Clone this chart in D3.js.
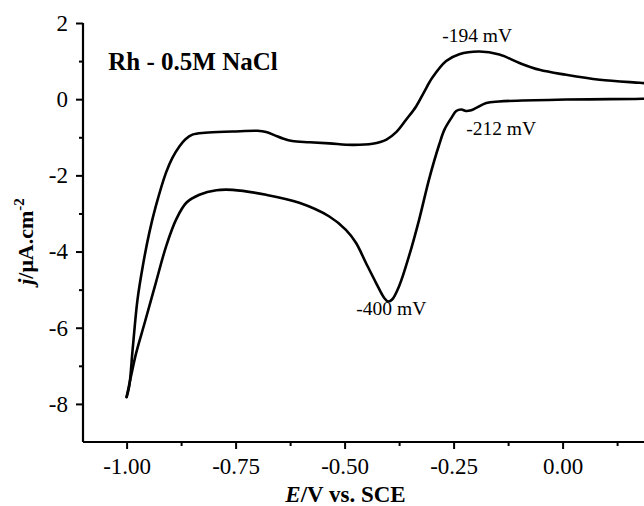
<!DOCTYPE html>
<html>
<head>
<meta charset="utf-8">
<script src="https://cdn.jsdelivr.net/npm/d3@7"></script>
<style>
    body { margin: 0; background: #fff; }
    svg { display: block; }
</style>
</head>
<body>
<div id="chart"></div>
<script>
// forward (anodic) scan, E in V vs SCE, j in uA/cm2
const forward_E = [-1.000, -0.994, -0.986, -0.975, -0.963, -0.948, -0.933, -0.910, -0.895, -0.879, -0.865, -0.849, -0.820, -0.757, -0.700, -0.680, -0.660, -0.640, -0.620, -0.580, -0.535, -0.482, -0.436, -0.404, -0.381, -0.359, -0.336, -0.318, -0.299, -0.267, -0.237, -0.191, -0.145, -0.099, -0.053, 0.008, 0.085, 0.177, 0.200]
const forward_j = [-7.82, -7.54, -6.55, -5.26, -4.39, -3.51, -2.81, -1.94, -1.54, -1.24, -1.05, -0.93, -0.88, -0.85, -0.83, -0.86, -0.95, -1.04, -1.10, -1.13, -1.16, -1.20, -1.17, -1.06, -0.86, -0.54, -0.19, 0.18, 0.56, 1.00, 1.18, 1.25, 1.17, 0.95, 0.77, 0.64, 0.51, 0.43, 0.41]

// reverse (cathodic) scan
const reverse_E = [0.200, 0.183, 0.008, -0.146, -0.175, -0.198, -0.212, -0.222, -0.232, -0.244, -0.255, -0.271, -0.283, -0.306, -0.329, -0.352, -0.375, -0.391, -0.400, -0.409, -0.428, -0.451, -0.474, -0.497, -0.535, -0.604, -0.680, -0.757, -0.794, -0.833, -0.863, -0.886, -0.909, -0.933, -0.958, -0.978, -0.990, -1.000]
const reverse_j = [0.02, 0.01, -0.01, -0.06, -0.10, -0.23, -0.30, -0.31, -0.27, -0.31, -0.49, -0.80, -1.19, -2.09, -3.16, -4.11, -4.91, -5.26, -5.31, -5.22, -4.82, -4.30, -3.77, -3.43, -3.08, -2.72, -2.51, -2.38, -2.39, -2.51, -2.72, -3.15, -3.85, -4.82, -5.85, -6.66, -7.28, -7.82]

const x_ticks = [-1.00, -0.75, -0.50, -0.25, 0.00]
const x_minor = [-0.875, -0.625, -0.375, -0.125, 0.125]
const y_ticks = [-8, -6, -4, -2, 0, 2]
const y_minor = [-7, -5, -3, -1, 1]

// peak annotations, placed in data units
const peak_text = ['-194 mV', '-212 mV', '-400 mV']
const peak_E = [-0.196, -0.221, -0.473]
const peak_j = [1.51, -0.93, -5.67]
const peak_anchor = ['middle', 'start', 'start']

const width = 644
const height = 506
const margin = { left: 83, top: 23, bottom: 64 }
const serif = '"Liberation Serif", "Times New Roman", serif'

const svg = d3.select('#chart')
    .append('svg')
    .attr('width', width)
    .attr('height', height)

const x = d3.scaleLinear()
    .domain([-1.1, 0.2])
    .range([margin.left, margin.left + 1.3 * 436])

const y = d3.scaleLinear()
    .domain([-9, 2])
    .range([height - margin.bottom, margin.top])

const forward = forward_E.map((e, i) => [e, forward_j[i]])
const reverse = reverse_E.map((e, i) => [e, reverse_j[i]])

const line = d3.line()
    .x(d => x(d[0]))
    .y(d => y(d[1]))
    .curve(d3.curveCatmullRom.alpha(0.5))

svg.selectAll('path.scan')
    .data([forward, reverse])
    .enter()
    .append('path')
    .attr('class', 'scan')
    .attr('d', line)
    .attr('fill', 'none')
    .attr('stroke', '#000')
    .attr('stroke-width', 2.6)
    .attr('stroke-linejoin', 'round')
    .attr('stroke-linecap', 'round')

// axes
const x_axis = svg.append('g')
    .attr('transform', `translate(0, ${y(-9)})`)
    .call(d3.axisBottom(x).tickValues(x_ticks).tickSize(7).tickPadding(9)
        .tickFormat(d => d.toFixed(2)))
x_axis.append('g')
    .call(d3.axisBottom(x).tickValues(x_minor).tickSize(4).tickFormat(''))
    .select('.domain').remove()

const y_axis = svg.append('g')
    .attr('transform', `translate(${x(-1.1)}, 0)`)
    .call(d3.axisLeft(y).tickValues(y_ticks).tickSize(7).tickPadding(8)
        .tickFormat(d => String(d)))
y_axis.append('g')
    .call(d3.axisLeft(y).tickValues(y_minor).tickSize(4).tickFormat(''))
    .select('.domain').remove()

x_axis.attr('font-family', serif)
y_axis.attr('font-family', serif)

svg.selectAll('.domain')
    .attr('stroke', '#000')
    .attr('stroke-width', 2.2)
    .attr('d', function () {
        // plain axis line without the end caps
        return this.parentNode === x_axis.node()
            ? `M${x(-1.1)},0H${width + 10}`
            : `M0,${y(-9)}V${y(2)}`
    })
svg.selectAll('.tick line')
    .attr('stroke', '#000')
    .attr('stroke-width', 2)
svg.selectAll('.tick text')
    .attr('fill', '#000')
    .style('font-family', serif)
    .style('font-size', '23px')

// axis titles
const x_title = svg.append('text')
    .attr('x', x(-0.498))
    .attr('y', height - 4)
    .attr('text-anchor', 'middle')
    .style('font-family', serif)
    .style('font-size', '23px')
    .style('font-weight', 'bold')
x_title.append('tspan').style('font-style', 'italic').text('E')
x_title.append('tspan').text('/V vs. SCE')

const y_title = svg.append('text')
    .attr('transform', `translate(33, ${(y(-9) + y(2)) / 2 + 9}) rotate(-90)`)
    .attr('text-anchor', 'middle')
    .style('font-family', serif)
    .style('font-size', '22px')
    .style('font-weight', 'bold')
y_title.append('tspan').style('font-style', 'italic').text('j')
y_title.append('tspan').text('/μA.cm')
y_title.append('tspan').attr('dy', -9).style('font-size', '15px').text('-2')

// sample label
svg.append('text')
    .attr('x', x(-1.042))
    .attr('y', y(0.76))
    .style('font-family', serif)
    .style('font-size', '25px')
    .style('font-weight', 'bold')
    .text('Rh - 0.5M NaCl')

svg.selectAll('text.peak')
    .data(peak_text)
    .enter()
    .append('text')
    .attr('class', 'peak')
    .attr('x', (d, i) => x(peak_E[i]))
    .attr('y', (d, i) => y(peak_j[i]))
    .attr('text-anchor', (d, i) => peak_anchor[i])
    .style('font-family', serif)
    .style('font-size', '19.5px')
    .text(d => d)
</script>
</body>
</html>
